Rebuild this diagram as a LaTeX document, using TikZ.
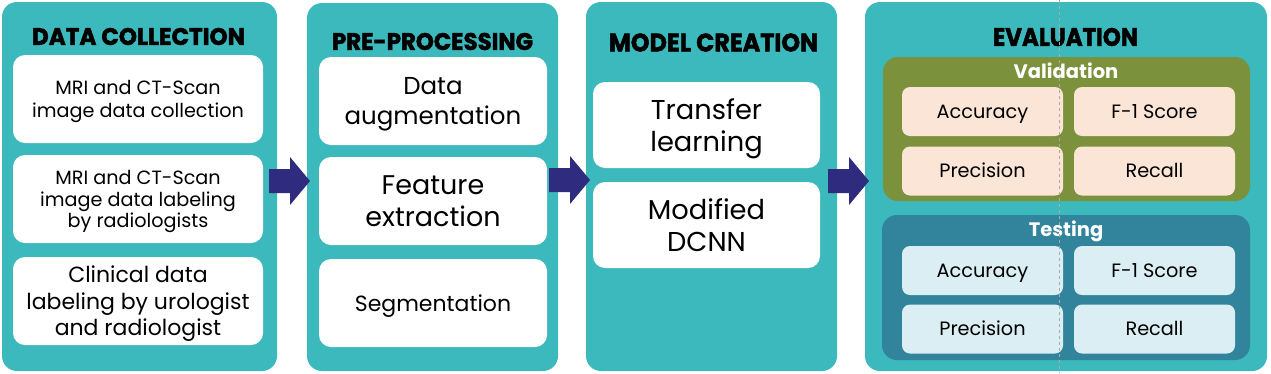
\documentclass[tikz,border=0pt]{standalone}
\usepackage{fontspec}
\usepackage{graphicx}
\setmainfont{Poppins}
\newfontfamily\headfont{Poppins}[BoldFeatures={FakeBold=2}]
\definecolor{panelc}{HTML}{3BB9BC}
\definecolor{arrowc}{HTML}{2F2C7F}
\definecolor{valc}{HTML}{7B913B}
\definecolor{peach}{HTML}{FBE5D6}
\definecolor{testc}{HTML}{31849B}
\definecolor{lblue}{HTML}{DAEEF3}
\definecolor{guidec}{HTML}{AAAAAA}
\tikzset{
  panel/.style={fill=panelc, rounded corners=15pt, inner sep=0pt},
  wbox/.style={fill=white, rounded corners=12pt, inner sep=0pt, align=center, text=black, text depth=0pt},
  hdr/.style={inner sep=0pt, font=\headfont\bfseries, text=black},
  subhdr/.style={inner sep=0pt, font=\bfseries\fontsize{19.5}{22}\selectfont, text=white, text height=13.6pt, text depth=0pt},
  metric/.style={rounded corners=8pt, inner sep=0pt, minimum width=161pt, minimum height=49pt, text=black, font=\fontsize{19.3}{22}\selectfont, text height=13.5pt, text depth=0pt},
  vbox/.style={metric, fill=peach},
  tbox/.style={metric, fill=lblue},
  guide/.style={guidec, dashed, line width=0.8pt},
  blockarrow/.pic={\fill[arrowc] (0,-12) -- (21,-12) -- (21,-24) -- (41,0) -- (21,24) -- (21,12) -- (0,12) -- cycle;}
}
\begin{document}
\begin{tikzpicture}[x=1pt,y=-1pt]
\useasboundingbox[fill=white] (0,0) rectangle (1271,373);
% panels
\node[panel, minimum width=275pt, minimum height=369pt] (p1) at (139.5,186.5) {};
\node[panel, minimum width=251pt, minimum height=368pt] (p2) at (432.5,187) {};
\node[panel, minimum width=251pt, minimum height=369pt] (p3) at (711.5,186.5) {};
\node[panel, minimum width=402pt, minimum height=369pt] (p4) at (1066,186.5) {};
% headers
\node[hdr] (h1) at (138.5,36.5) {\resizebox{213pt}{17pt}{DATA COLLECTION}};
\node[hdr] (h2) at (432.5,41.5) {\resizebox{201pt}{17pt}{PRE-PROCESSING}};
\node[hdr] (h3) at (713.5,42.5) {\resizebox{209pt}{18pt}{MODEL CREATION}};
\node[hdr] (h4) at (1065.5,37) {\resizebox{145pt}{18pt}{EVALUATION}};
% panel 1 boxes
\node[wbox, minimum width=250pt, minimum height=88pt, font=\fontsize{19.2}{23}\selectfont] (b11) at (138,99) {MRI and CT-Scan\\image data collection};
\node[wbox, minimum width=250pt, minimum height=88pt, font=\fontsize{19.2}{21.5}\selectfont] (b12) at (138,199) {MRI and CT-Scan\\image data labeling\\by radiologists};
\node[wbox, minimum width=250pt, minimum height=88pt, font=\fontsize{22}{26.5}\selectfont] (b13) at (138,301) {Clinical data\\labeling by urologist\\and radiologist};
% panel 2 boxes
\node[wbox, minimum width=228pt, minimum height=88pt, font=\fontsize{24.5}{30}\selectfont] (b21) at (433,101) {Data\\augmentation};
\node[wbox, minimum width=228pt, minimum height=88pt, font=\fontsize{27}{32}\selectfont] (b22) at (433,201) {Feature\\extraction};
\node[wbox, minimum width=228pt, minimum height=88pt, font=\fontsize{22}{26}\selectfont] (b23) at (433,303) {Segmentation};
% panel 3 boxes
\node[wbox, minimum width=227pt, minimum height=86pt, font=\fontsize{27.3}{32}\selectfont] (b31) at (706.5,125) {Transfer\\learning};
\node[wbox, minimum width=227pt, minimum height=86pt, font=\fontsize{27.3}{32}\selectfont] (b32) at (706.5,225) {Modified\\DCNN};
% evaluation
\node[fill=valc, rounded corners=15pt, minimum width=367pt, minimum height=144pt, inner sep=0pt] (val) at (1066.5,129) {};
\node[fill=testc, rounded corners=15pt, minimum width=368pt, minimum height=145pt, inner sep=0pt] (tst) at (1066,287.5) {};
\node[subhdr] (valt) at (1066,71.5) {Validation};
\node[subhdr] (tstt) at (1066,230) {Testing};
\node[vbox] (va) at (982.5,111.5) {Accuracy};
\node[vbox] (vf) at (1154.5,111.5) {F-1 Score};
\node[vbox] (vp) at (982.5,171) {Precision};
\node[vbox] (vr) at (1154.5,171) {Recall};
\node[tbox] (ta) at (982.5,270.5) {Accuracy};
\node[tbox] (tf) at (1154.5,270.5) {F-1 Score};
\node[tbox] (tp) at (982.5,329) {Precision};
\node[tbox] (tr) at (1154.5,329) {Recall};
% arrows
\pic (a1) at (269,181) {blockarrow};
\pic (a2) at (549,180) {blockarrow};
\pic (a3) at (828,181) {blockarrow};
% guide line
\coordinate (gtop) at (1059,0);
\coordinate (gbot) at (1059,373);
\draw[guide] (gtop) -- (gbot);
\end{tikzpicture}
\end{document}
